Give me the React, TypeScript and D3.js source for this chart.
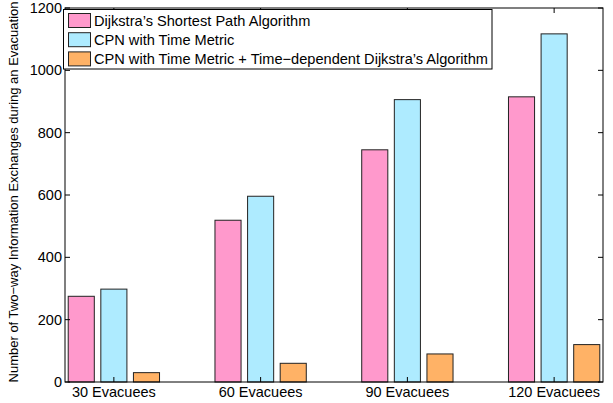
import React, { useEffect, useRef } from "react";
import * as d3 from "d3";

const categories = ["30 Evacuees", "60 Evacuees", "90 Evacuees", "120 Evacuees"];
const seriesNames = [
  "Dijkstra’s Shortest Path Algorithm",
  "CPN with Time Metric",
  "CPN with Time Metric + Time−dependent Dijkstra’s Algorithm",
];
const dijkstra = [275, 519, 745, 915];
const cpnTime = [298, 596, 906, 1117];
const cpnTimeDijkstra = [30, 60, 90, 120];
const yTicks = [0, 200, 400, 600, 800, 1000, 1200];
const colors = ["#FF99CC", "#AEEBFF", "#FFB266"];
const yLabel = "Number of Two−way Information Exchanges during an Evacuation";

const W = 613;
const H = 403;
const L = 65, R = 603, T = 8, B = 382;
const FONT = "'Liberation Sans', Arial, Helvetica, sans-serif";

export default function App() {
  const ref = useRef<SVGSVGElement>(null);
  useEffect(() => {
    const svg = d3.select(ref.current);
    svg.selectAll("*").remove();
    const series = [dijkstra, cpnTime, cpnTimeDijkstra];
    const x = d3.scaleLinear().domain([0.667, 4.333]).range([L, R]);
    const y = d3.scaleLinear().domain([0, 1200]).range([B, T]);
    const n = series.length;
    const gw = 2 / 3;
    const step = gw / n;
    const bw = step * 0.8;

    const g = svg.append("g");
    series.forEach((vals, j) => {
      g.selectAll(null)
        .data(vals)
        .enter()
        .append("rect")
        .attr("x", (_d, i) => x(i + 1 + (j - (n - 1) / 2) * step - bw / 2))
        .attr("width", x(bw) - x(0))
        .attr("y", (d) => y(d))
        .attr("height", (d) => y(0) - y(d))
        .attr("fill", colors[j])
        .attr("stroke", "#222")
        .attr("stroke-width", 1);
    });

    svg.append("rect")
      .attr("x", L).attr("y", T).attr("width", R - L).attr("height", B - T)
      .attr("fill", "none").attr("stroke", "#000").attr("stroke-width", 1);

    const tl = 5;
    yTicks.forEach((t) => {
      const yy = y(t);
      svg.append("line").attr("x1", L).attr("x2", L + tl).attr("y1", yy).attr("y2", yy).attr("stroke", "#000");
      svg.append("line").attr("x1", R).attr("x2", R - tl).attr("y1", yy).attr("y2", yy).attr("stroke", "#000");
      svg.append("text")
        .attr("x", L - 3).attr("y", yy).attr("dy", "0.35em")
        .attr("text-anchor", "end")
        .attr("font-family", FONT).attr("font-size", 14.5)
        .text(String(t));
    });
    categories.forEach((c, i) => {
      const xx = x(i + 1);
      svg.append("line").attr("x1", xx).attr("x2", xx).attr("y1", B).attr("y2", B - tl).attr("stroke", "#000");
      svg.append("line").attr("x1", xx).attr("x2", xx).attr("y1", T).attr("y2", T + tl).attr("stroke", "#000");
      svg.append("text")
        .attr("x", xx).attr("y", B + 15)
        .attr("text-anchor", "middle")
        .attr("font-family", FONT).attr("font-size", 14.5)
        .text(c);
    });

    svg.append("text")
      .attr("transform", `translate(18,${192}) rotate(-90)`)
      .attr("text-anchor", "middle")
      .attr("font-family", FONT).attr("font-size", 13)
      .text(yLabel);

    const lg = svg.append("g");
    lg.append("rect")
      .attr("x", 63.5).attr("y", 9.5).attr("width", 428.5).attr("height", 59.5)
      .attr("fill", "#fff").attr("stroke", "#000").attr("stroke-width", 1);
    seriesNames.forEach((name, j) => {
      const cy = 20.5 + j * 19.2;
      lg.append("rect")
        .attr("x", 68.5).attr("y", cy - 7).attr("width", 22).attr("height", 14)
        .attr("fill", colors[j]).attr("stroke", "#222");
      lg.append("text")
        .attr("x", 94).attr("y", cy).attr("dy", "0.36em")
        .attr("font-family", FONT).attr("font-size", 14.6)
        .text(name);
    });
  }, []);
  return (
    <svg
      ref={ref}
      width={W}
      height={H}
      style={{ position: "absolute", left: 0, top: 0, background: "#fff" }}
    />
  );
}
